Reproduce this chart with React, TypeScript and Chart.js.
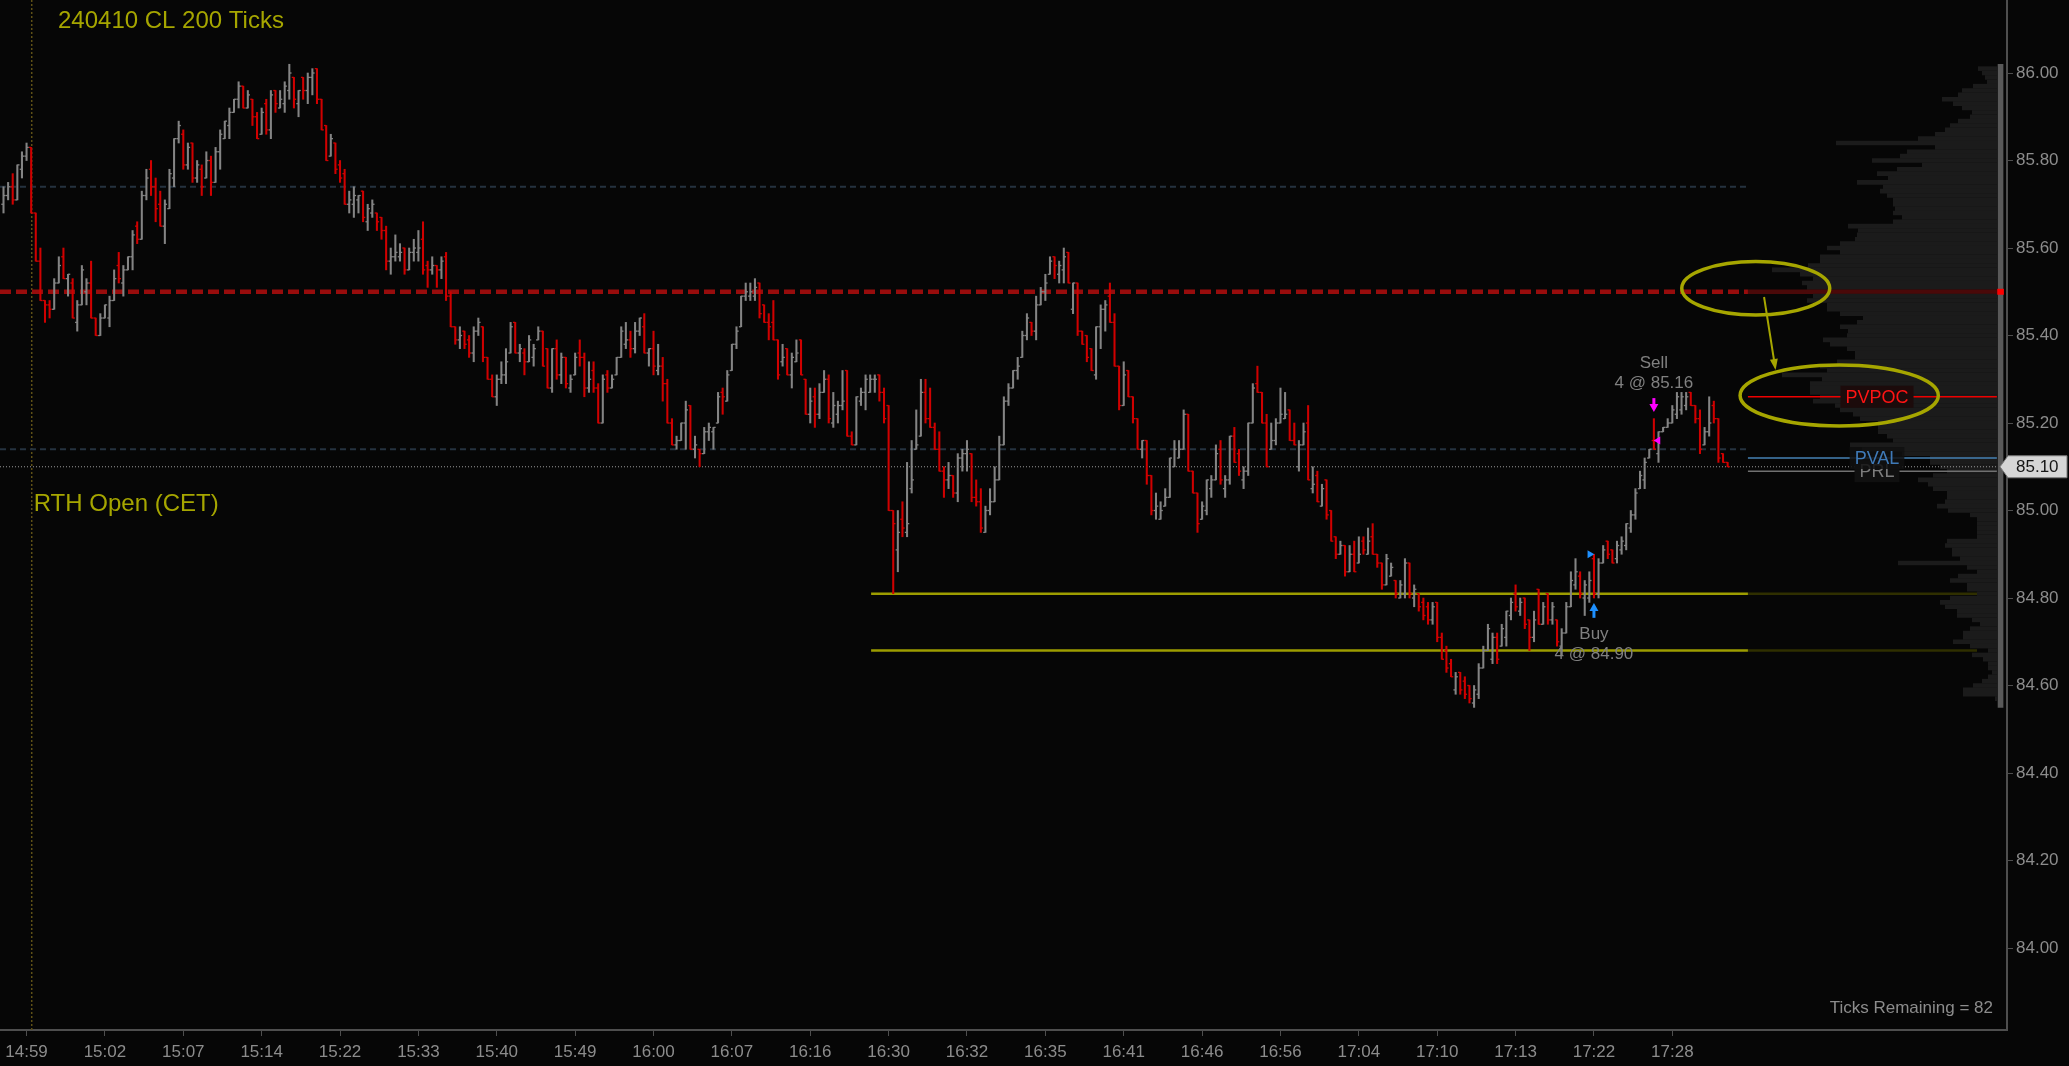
import React, { useEffect, useRef } from "react";
import { Chart, registerables } from "chart.js";

Chart.register(...registerables);

// ---------- DATA (prices in cents) ----------
const OPEN = [
  8570,8572,8574,8571,8578,8581,8583,8568,8557,8548,
  8547,8546,8552,8558,8553,8552,8543,8547,8550,8552,
  8544,8540,8544,8544,8548,8556,8552,8555,8558,8565,
  8562,8572,8578,8574,8570,8565,8569,8576,8585,8586,
  8579,8584,8576,8578,8576,8580,8575,8582,8585,8588,
  8591,8594,8597,8592,8594,8590,8586,8593,8587,8596,
  8592,8593,8596,8599,8593,8599,8596,8599,8601,8594,
  8588,8581,8584,8579,8577,8570,8570,8571,8573,8566,
  8568,8568,8567,8564,8557,8558,8558,8560,8555,8559,
  8559,8562,8556,8555,8556,8555,8558,8549,8542,8539,
  8541,8539,8536,8541,8542,8535,8530,8526,8530,8531,
  8536,8543,8536,8536,8534,8535,8539,8541,8537,8528,
  8537,8531,8535,8528,8531,8536,8535,8528,8532,8528,
  8520,8531,8528,8531,8535,8538,8539,8537,8541,8542,
  8536,8537,8532,8533,8529,8520,8515,8516,8520,8524,
  8514,8514,8513,8518,8518,8520,8527,8525,8532,8538,
  8542,8549,8549,8549,8552,8547,8543,8543,8539,8534,
  8537,8531,8534,8539,8530,8522,8526,8522,8527,8530,
  8520,8522,8524,8532,8517,8515,8525,8527,8527,8530,
  8531,8527,8524,8500,8491,8498,8495,8505,8514,8517,
  8527,8521,8519,8514,8509,8507,8508,8504,8512,8513,
  8513,8503,8502,8495,8500,8502,8507,8515,8525,8528,
  8532,8535,8540,8543,8541,8547,8550,8554,8558,8554,
  8555,8559,8546,8552,8541,8540,8537,8531,8542,8546,
  8549,8543,8533,8524,8532,8526,8521,8514,8516,8508,
  8500,8498,8501,8503,8510,8512,8514,8522,8509,8504,
  8498,8500,8505,8507,8514,8505,8507,8517,8513,8507,
  8509,8520,8529,8527,8520,8514,8516,8520,8521,8523,
  8516,8510,8515,8520,8505,8508,8501,8507,8500,8494,
  8490,8492,8486,8490,8488,8493,8490,8494,8490,8488,
  8483,8485,8484,8480,8481,8488,8480,8481,8479,8478,
  8475,8479,8471,8468,8465,8459,8463,8461,8460,8456,
  8458,8464,8468,8466,8471,8469,8471,8476,8481,8477,
  8480,8475,8471,8482,8474,8481,8475,8475,8469,8472,
  8478,8483,8485,8480,8480,8489,8481,8488,8493,8491,
  8489,8491,8492,8496,8499,8505,8507,8512,8516,8513,
  8518,8519,8520,8522,8523,8524,8527,8524,8521,8515,
  8518,8524,8521,8513,8511,
];
const HIGH = [
  8574,8575,8577,8579,8582,8584,8583,8568,8560,8548,
  8548,8553,8558,8560,8554,8553,8548,8556,8553,8557,
  8544,8545,8547,8549,8555,8559,8556,8558,8564,8566,
  8573,8578,8580,8576,8573,8571,8578,8585,8589,8587,
  8584,8584,8580,8579,8582,8581,8583,8587,8589,8592,
  8594,8598,8597,8596,8594,8591,8592,8594,8596,8596,
  8596,8598,8602,8599,8596,8599,8600,8601,8601,8594,
  8588,8586,8584,8580,8578,8573,8574,8572,8573,8570,
  8571,8568,8567,8565,8560,8563,8561,8560,8560,8562,
  8564,8566,8557,8558,8556,8558,8559,8550,8542,8542,
  8541,8540,8542,8544,8542,8535,8531,8531,8534,8537,
  8543,8543,8538,8537,8540,8538,8542,8541,8537,8537,
  8539,8536,8535,8531,8536,8539,8536,8534,8534,8529,
  8531,8532,8531,8535,8542,8543,8541,8543,8544,8545,
  8537,8541,8538,8535,8530,8521,8517,8520,8525,8524,
  8517,8514,8519,8520,8519,8527,8528,8532,8538,8542,
  8549,8552,8552,8553,8552,8547,8545,8548,8539,8538,
  8537,8536,8539,8539,8530,8528,8528,8529,8532,8531,
  8527,8525,8532,8532,8518,8526,8528,8531,8531,8531,
  8531,8528,8524,8500,8500,8502,8511,8516,8523,8530,
  8530,8528,8520,8518,8510,8511,8508,8513,8514,8516,
  8513,8507,8505,8501,8505,8510,8517,8526,8529,8532,
  8535,8541,8545,8543,8549,8551,8554,8558,8558,8557,
  8560,8559,8552,8552,8541,8540,8537,8542,8547,8548,
  8552,8545,8533,8534,8532,8526,8521,8516,8516,8508,
  8504,8502,8505,8512,8516,8516,8523,8522,8509,8504,
  8502,8507,8508,8515,8516,8508,8517,8519,8514,8510,
  8520,8529,8533,8527,8522,8520,8521,8528,8527,8523,
  8520,8516,8520,8524,8510,8509,8506,8507,8500,8494,
  8493,8492,8492,8493,8494,8494,8496,8497,8490,8488,
  8490,8488,8484,8484,8489,8488,8483,8481,8480,8479,
  8479,8479,8472,8469,8466,8463,8463,8462,8460,8460,
  8465,8469,8474,8472,8472,8474,8477,8480,8483,8480,
  8480,8475,8477,8482,8479,8481,8479,8475,8473,8479,
  8486,8489,8486,8484,8486,8490,8489,8492,8493,8491,
  8493,8494,8497,8500,8505,8509,8512,8514,8521,8518,
  8519,8521,8524,8527,8527,8527,8527,8524,8523,8519,
  8526,8525,8521,8513,8511,
];
const LOW = [
  8568,8571,8570,8571,8576,8580,8568,8557,8548,8543,
  8544,8546,8552,8553,8549,8544,8541,8547,8547,8544,
  8540,8540,8544,8542,8548,8552,8549,8555,8555,8561,
  8562,8571,8572,8566,8565,8561,8569,8574,8584,8578,
  8578,8575,8575,8572,8576,8572,8575,8578,8585,8585,
  8591,8592,8592,8592,8588,8585,8586,8586,8585,8591,
  8592,8591,8594,8592,8590,8594,8593,8595,8593,8587,
  8580,8581,8577,8575,8570,8568,8567,8568,8566,8564,
  8567,8564,8562,8555,8554,8557,8557,8554,8555,8557,
  8557,8554,8551,8554,8551,8553,8548,8542,8538,8537,
  8537,8535,8534,8540,8534,8530,8526,8524,8529,8529,
  8536,8536,8534,8531,8534,8533,8539,8533,8528,8527,
  8530,8529,8528,8527,8531,8533,8526,8527,8527,8520,
  8520,8527,8528,8531,8535,8537,8535,8536,8540,8536,
  8533,8531,8531,8525,8520,8515,8514,8516,8514,8514,
  8512,8510,8513,8516,8514,8520,8522,8525,8532,8537,
  8542,8548,8548,8548,8544,8543,8539,8539,8530,8533,
  8531,8528,8534,8531,8522,8520,8519,8521,8527,8520,
  8519,8520,8523,8517,8515,8515,8524,8523,8527,8527,
  8525,8520,8500,8481,8486,8494,8494,8504,8514,8517,
  8520,8519,8514,8509,8503,8505,8503,8502,8509,8509,
  8502,8501,8495,8495,8499,8502,8507,8515,8524,8528,
  8530,8535,8539,8540,8539,8547,8548,8554,8553,8552,
  8552,8552,8545,8540,8538,8534,8532,8530,8537,8541,
  8543,8533,8523,8524,8526,8520,8514,8512,8506,8499,
  8498,8498,8501,8503,8510,8512,8514,8509,8504,8495,
  8498,8499,8503,8507,8506,8503,8506,8511,8508,8505,
  8508,8520,8527,8520,8510,8514,8515,8520,8521,8516,
  8515,8509,8515,8507,8504,8502,8501,8498,8493,8489,
  8490,8485,8486,8486,8488,8490,8490,8490,8487,8482,
  8483,8485,8480,8480,8480,8480,8478,8477,8475,8474,
  8474,8470,8466,8463,8462,8458,8458,8457,8456,8455,
  8457,8464,8468,8465,8465,8469,8469,8475,8477,8476,
  8473,8468,8470,8474,8474,8474,8474,8469,8467,8472,
  8478,8482,8480,8476,8479,8480,8480,8488,8489,8488,
  8488,8490,8491,8495,8498,8505,8505,8512,8514,8511,
  8518,8519,8520,8521,8522,8523,8524,8520,8513,8515,
  8517,8520,8511,8511,8510,
];
const CLOSE = [
  8572,8574,8571,8579,8581,8583,8568,8557,8548,8547,
  8546,8552,8556,8553,8554,8544,8547,8555,8552,8544,
  8540,8544,8547,8548,8553,8553,8555,8558,8563,8562,
  8572,8576,8574,8569,8565,8570,8577,8585,8588,8579,
  8583,8576,8579,8574,8580,8575,8582,8586,8589,8591,
  8594,8597,8592,8595,8590,8585,8591,8587,8595,8593,
  8594,8597,8600,8594,8596,8596,8599,8600,8594,8587,
  8580,8585,8578,8576,8570,8571,8572,8572,8567,8569,
  8570,8566,8564,8557,8558,8559,8559,8555,8559,8560,
  8560,8555,8555,8556,8555,8557,8549,8542,8539,8540,
  8538,8536,8541,8543,8535,8530,8526,8530,8531,8534,
  8542,8536,8537,8534,8539,8537,8541,8533,8528,8537,
  8531,8535,8529,8530,8535,8535,8528,8530,8528,8520,
  8530,8528,8530,8535,8541,8539,8537,8541,8544,8536,
  8537,8533,8533,8529,8520,8515,8516,8520,8523,8514,
  8515,8513,8518,8519,8519,8526,8526,8531,8538,8541,
  8549,8550,8550,8551,8545,8543,8542,8539,8531,8535,
  8531,8535,8536,8531,8522,8525,8522,8527,8530,8521,
  8524,8524,8525,8517,8515,8526,8527,8530,8530,8530,
  8527,8521,8500,8497,8495,8496,8497,8507,8515,8527,
  8521,8519,8514,8509,8507,8508,8504,8512,8513,8514,
  8503,8502,8496,8500,8502,8507,8515,8525,8528,8532,
  8533,8540,8544,8541,8547,8550,8552,8557,8556,8556,
  8558,8552,8552,8541,8538,8535,8532,8542,8546,8547,
  8543,8533,8524,8531,8526,8521,8514,8516,8508,8500,
  8501,8500,8503,8512,8514,8514,8522,8509,8504,8497,
  8501,8507,8507,8513,8507,8507,8517,8511,8509,8509,
  8520,8528,8527,8520,8510,8516,8520,8522,8522,8516,
  8515,8515,8518,8507,8506,8502,8505,8499,8493,8490,
  8492,8486,8490,8486,8490,8491,8493,8490,8488,8483,
  8489,8487,8481,8483,8488,8481,8482,8478,8476,8475,
  8478,8471,8466,8464,8462,8462,8459,8458,8457,8459,
  8464,8468,8473,8471,8466,8473,8477,8479,8478,8479,
  8474,8471,8475,8474,8478,8475,8478,8470,8472,8478,
  8484,8486,8481,8483,8484,8481,8488,8491,8490,8488,
  8492,8493,8497,8499,8504,8508,8511,8514,8514,8518,
  8519,8520,8523,8526,8526,8526,8524,8521,8514,8518,
  8520,8521,8512,8511,8510,
];

const TICK_INDEX = [5, 22, 39, 56, 73, 90, 107, 124, 141, 158, 175, 192, 209, 226, 243, 260, 277, 294, 311, 328, 345, 362];
const TICK_LABELS = ["14:59", "15:02", "15:07", "15:14", "15:22", "15:33", "15:40", "15:49", "16:00", "16:07", "16:16", "16:30", "16:32", "16:35", "16:41", "16:46", "16:56", "17:04", "17:10", "17:13", "17:22", "17:28"];
const Y_TICKS = [84.0, 84.2, 84.4, 84.6, 84.8, 85.0, 85.2, 85.4, 85.6, 85.8, 86.0];

// volume profile, one row per cent, from the top level downwards
const PROFILE_TOP_CENTS = 8601;
const PROFILE_VOL = [
  19, 15, 12, 10, 24, 35, 39, 55, 44, 35,
  25, 27, 39, 47, 52, 62, 79, 161, 62, 90,
  97, 125, 75, 100, 120, 109, 140, 114, 117, 110,
  104, 104, 102, 104, 95, 104, 149, 139, 140, 142,
  157, 170, 157, 177, 177, 189, 225, 197, 184, 195,
  190, 249, 184, 190, 170, 170, 157, 134, 140, 157,
  149, 150, 174, 167, 150, 142, 142, 160, 177, 170,
  215, 175, 187, 187, 187, 177, 184, 162, 157, 144,
  137, 119, 119, 119, 110, 104, 147, 135, 95, 67,
  67, 57, 50, 64, 79, 69, 64, 50, 50, 52,
  60, 49, 27, 20, 20, 20, 20, 20, 50, 52,
  45, 45, 37, 99, 30, 20, 39, 47, 30, 30,
  20, 47, 57, 52, 40, 40, 25, 17, 27, 34,
  34, 44, 27, 9, 25, 14, 9, 9, 5, 9,
  15, 24, 34, 34, 2,
];
const POC_CENTS = 8550;

// reference levels (prices)
const DEV_POC = 85.5;
const VA_HIGH = 85.74;
const VA_LOW = 85.14;
const PVAL = 85.12;
const LAST_PRICE = 85.1;
const PRL = 85.09;
const PVPOC = 85.26;
const ZONE_HIGH = 84.81;
const ZONE_LOW = 84.68;
const PROFILE_RANGE = [84.55, 86.02];

// trade markers
const SELL = { bar: 358, price: 85.16, qty: 4 };
const BUY = { bar: 345, price: 84.9, qty: 4 };

// ---------- LAYOUT / STYLE ----------
const W = 2069;
const H = 1066;
const X_MIN = -0.76;
const X_MAX = 434.6;
const Y_MIN = 83.8126;
const Y_MAX = 86.1669;
const XP_MIN = -10;
const XP_MAX = 1997;
const PROFILE_START_X = 378.4;
const PROFILE_END_X = 432.4;
const PROFILE_COLUMN_X = 433.2;
const ZONE_START_X = 188.2;
const ZONE_DIM_END_X = 428.1;
const RTH_OPEN_X = 6.12;
const LABEL_X = 406.4;

const BG = "#060606";
const UP = "#848484";
const DOWN = "#d00000";
const AXIS = "#4e4e4e";
const TEXT = "#8c8c8c";
const OLIVE = "#a6a600";
const FONT = '"Liberation Sans", Arial, sans-serif';

const c = (v: number) => v / 100;

function hline(label: string, y: number, x0: number, x1: number, color: string, width: number, dash: number[] = [], order = 5) {
  return {
    type: "line" as const,
    label,
    data: [{ x: x0, y }, { x: x1, y }],
    borderColor: color,
    borderWidth: width,
    borderDash: dash,
    pointRadius: 0,
    fill: false,
    tension: 0,
    xAxisID: "x",
    yAxisID: "y",
    order,
  };
}

const annotationPlugin = {
  id: "annotations",
  beforeDraw(chart: any) {
    const ctx = chart.ctx;
    ctx.save();
    ctx.fillStyle = BG;
    ctx.fillRect(0, 0, chart.width, chart.height);
    ctx.restore();
  },
  afterDatasetsDraw(chart: any) {
    const { ctx, chartArea } = chart;
    const xs = chart.scales.x;
    const ys = chart.scales.y;
    const px = (v: number) => xs.getPixelForValue(v);
    const py = (v: number) => ys.getPixelForValue(v);
    ctx.save();

    // titles
    ctx.textBaseline = "middle";
    ctx.textAlign = "left";
    ctx.fillStyle = OLIVE;
    ctx.font = `24px ${FONT}`;
    ctx.fillText("240410 CL 200 Ticks", chartArea.left + 58, chartArea.top + 21);
    ctx.fillText("RTH Open (CET)", px(RTH_OPEN_X) + 2, 504);

    // level labels on the profile side
    const label = (text: string, y: number, color: string, box: string, size: number) => {
      ctx.font = `${size}px ${FONT}`;
      const w = ctx.measureText(text).width;
      const cx = px(LABEL_X);
      ctx.fillStyle = box;
      ctx.fillRect(cx - w / 2 - 5, py(y) - 11, w + 10, 22);
      ctx.fillStyle = color;
      ctx.textAlign = "center";
      ctx.fillText(text, cx, py(y) + 1);
    };
    label("PVPOC", PVPOC, "#ff1414", "#1c0b0b", 18);
    label("PRL", PRL, "#7c7c7c", "#101010", 18);
    label("PVAL", PVAL, "#3f7ab8", "rgba(16,16,16,0.85)", 18);

    // ellipses
    ctx.strokeStyle = OLIVE;
    ctx.lineWidth = 3.5;
    const ellipse = (cxv: number, cyv: number, rxv: number, ryv: number) => {
      const cx = px(cxv);
      const cy = py(cyv);
      const rx = px(cxv + rxv) - cx;
      const ry = cy - py(cyv + ryv);
      ctx.beginPath();
      ctx.ellipse(cx, cy, rx, ry, 0, 0, Math.PI * 2);
      ctx.stroke();
    };
    ellipse(380.1, 85.508, 16.05, 0.061);
    ellipse(398.2, 85.263, 21.5, 0.0697);

    // arrow between ellipses
    const ax0 = px(381.9), ay0 = py(85.488), ax1 = px(384.4), ay1 = py(85.321);
    const ang = Math.atan2(ay1 - ay0, ax1 - ax0);
    ctx.lineWidth = 2;
    ctx.beginPath();
    ctx.moveTo(ax0, ay0);
    ctx.lineTo(ax1 - Math.cos(ang) * 8, ay1 - Math.sin(ang) * 8);
    ctx.stroke();
    ctx.fillStyle = OLIVE;
    ctx.beginPath();
    ctx.moveTo(ax1, ay1);
    ctx.lineTo(ax1 - Math.cos(ang) * 11 + Math.sin(ang) * 4, ay1 - Math.sin(ang) * 11 - Math.cos(ang) * 4);
    ctx.lineTo(ax1 - Math.cos(ang) * 11 - Math.sin(ang) * 4, ay1 - Math.sin(ang) * 11 + Math.cos(ang) * 4);
    ctx.closePath();
    ctx.fill();

    // trade texts
    ctx.font = `17px ${FONT}`;
    ctx.fillStyle = "#808080";
    ctx.textAlign = "center";
    const sx = px(SELL.bar);
    const sTop = py(HIGH[SELL.bar] / 100) - 25;
    ctx.fillText("Sell", sx, sTop - 30);
    ctx.fillText(`${SELL.qty} @ ${SELL.price.toFixed(2)}`, sx, sTop - 10);
    const bx = px(BUY.bar);
    const bBot = py(LOW[BUY.bar] / 100) + 29;
    ctx.fillText("Buy", bx, bBot + 7);
    ctx.fillText(`${BUY.qty} @ ${BUY.price.toFixed(2)}`, bx, bBot + 27);

    // ticks remaining
    ctx.textAlign = "right";
    ctx.fillStyle = TEXT;
    ctx.fillText("Ticks Remaining = 82", chartArea.right - 14, chartArea.bottom - 22);
    ctx.restore();
  },
  afterDraw(chart: any) {
    const { ctx, chartArea } = chart;
    const y = chart.scales.y.getPixelForValue(LAST_PRICE);
    const r = chartArea.right;
    ctx.save();
    ctx.beginPath();
    ctx.moveTo(r - 7, y);
    ctx.lineTo(r + 1, y - 11);
    ctx.lineTo(r + 60, y - 11);
    ctx.lineTo(r + 60, y + 11);
    ctx.lineTo(r + 1, y + 11);
    ctx.closePath();
    ctx.fillStyle = "#d6d6d6";
    ctx.fill();
    ctx.strokeStyle = "#7a7a7a";
    ctx.lineWidth = 1;
    ctx.stroke();
    ctx.fillStyle = "#151515";
    ctx.font = `17px ${FONT}`;
    ctx.textAlign = "left";
    ctx.textBaseline = "middle";
    ctx.fillText(LAST_PRICE.toFixed(2), r + 9, y + 1);
    ctx.restore();
  },
};

export default function App() {
  const ref = useRef<HTMLCanvasElement>(null);

  useEffect(() => {
    const canvas = ref.current;
    if (!canvas) return;
    Chart.defaults.font.family = FONT;

    const idx = OPEN.map((_, i) => i);
    const colors = OPEN.map((o, i) => (CLOSE[i] >= o ? UP : DOWN));
    const profileData = PROFILE_VOL.map((v, k) => ({ x: v, y: c(PROFILE_TOP_CENTS - k) }));
    const profileColors = PROFILE_VOL.map((_, k) => (PROFILE_TOP_CENTS - k === POC_CENTS ? "#4a0909" : "#1b1b1b"));

    const datasets: any[] = [
      {
        type: "bar",
        label: "profile",
        data: profileData,
        indexAxis: "y",
        xAxisID: "xp",
        yAxisID: "yp",
        backgroundColor: profileColors,
        borderWidth: 0,
        barPercentage: 1.04,
        categoryPercentage: 1,
        grouped: false,
        order: 10,
      },
      {
        type: "bar",
        label: "profile column",
        data: [{ x: PROFILE_COLUMN_X, y: PROFILE_RANGE }],
        xAxisID: "x",
        yAxisID: "y",
        backgroundColor: "#595959",
        barThickness: 5,
        grouped: false,
        order: 9,
      },
      {
        type: "bar",
        label: "poc mark",
        data: [{ x: PROFILE_COLUMN_X, y: [DEV_POC - 0.006, DEV_POC + 0.006] }],
        xAxisID: "x",
        yAxisID: "y",
        backgroundColor: "#ff0000",
        barThickness: 6,
        grouped: false,
        order: 8,
      },
      hline("va high", VA_HIGH, X_MIN, PROFILE_START_X, "#25323f", 2, [6, 4]),
      hline("va low", VA_LOW, X_MIN, PROFILE_START_X, "#25323f", 2, [6, 4]),
      hline("dev poc", DEV_POC, X_MIN, PROFILE_START_X, "#980c0c", 4.3, [11, 5]),
      hline("zone high", ZONE_HIGH, ZONE_START_X, PROFILE_START_X, "#9c9c00", 2.5),
      hline("zone low", ZONE_LOW, ZONE_START_X, PROFILE_START_X, "#9c9c00", 2.5),
      hline("zone high dim", ZONE_HIGH, PROFILE_START_X, ZONE_DIM_END_X, "#2f2f00", 2.5),
      hline("zone low dim", ZONE_LOW, PROFILE_START_X, ZONE_DIM_END_X, "#2f2f00", 2.5),
      hline("last", LAST_PRICE, X_MIN, PROFILE_END_X, "#9a9a9a", 1, [1, 2]),
      hline("pval", PVAL, PROFILE_START_X, PROFILE_END_X, "#4682b4", 1.5),
      hline("prl", PRL, PROFILE_START_X, PROFILE_END_X, "#707070", 1.5),
      hline("pvpoc", PVPOC, PROFILE_START_X, PROFILE_END_X, "#ee0000", 1.5),
      {
        type: "line",
        label: "rth open",
        data: [{ x: RTH_OPEN_X, y: Y_MIN }, { x: RTH_OPEN_X, y: Y_MAX }],
        borderColor: "#5e5016",
        borderWidth: 1.5,
        borderDash: [2, 2],
        pointRadius: 0,
        xAxisID: "x",
        yAxisID: "y",
        order: 6,
      },
      {
        type: "bar",
        label: "high-low",
        data: idx.map((i) => ({ x: i, y: [c(LOW[i]), c(HIGH[i])] })),
        xAxisID: "x",
        yAxisID: "y",
        backgroundColor: colors,
        barThickness: 1.4,
        minBarLength: 1,
        grouped: false,
        order: 3,
      },
      {
        type: "scatter",
        label: "open",
        data: idx.map((i) => ({ x: i - 0.24, y: c(OPEN[i]) })),
        xAxisID: "x",
        yAxisID: "y",
        pointStyle: "line",
        pointRadius: 1.1,
        pointBorderWidth: 1.3,
        pointBorderColor: colors,
        pointBackgroundColor: colors,
        order: 2,
      },
      {
        type: "scatter",
        label: "close",
        data: idx.map((i) => ({ x: i + 0.24, y: c(CLOSE[i]) })),
        xAxisID: "x",
        yAxisID: "y",
        pointStyle: "line",
        pointRadius: 1.1,
        pointBorderWidth: 1.3,
        pointBorderColor: colors,
        pointBackgroundColor: colors,
        order: 2,
      },
      // sell marker: shaft + head above bar, fill triangle at price
      {
        type: "scatter",
        label: "sell shaft",
        data: [{ x: SELL.bar, y: 85.2487 }],
        xAxisID: "x",
        yAxisID: "y",
        pointStyle: "line",
        pointRadius: 3.6,
        pointRotation: 90,
        pointBorderWidth: 3,
        pointBorderColor: "#ff00ff",
        order: 0,
      },
      {
        type: "scatter",
        label: "sell head",
        data: [{ x: SELL.bar, y: 85.2373 }],
        xAxisID: "x",
        yAxisID: "y",
        pointStyle: "triangle",
        pointRadius: 5.2,
        pointRotation: 180,
        pointBorderWidth: 0,
        pointBackgroundColor: "#ff00ff",
        order: 0,
      },
      {
        type: "scatter",
        label: "sell fill",
        data: [{ x: SELL.bar + 0.9, y: SELL.price }],
        xAxisID: "x",
        yAxisID: "y",
        pointStyle: "triangle",
        pointRadius: 4.5,
        pointRotation: -90,
        pointBorderWidth: 0,
        pointBackgroundColor: "#ff00ff",
        order: 0,
      },
      {
        type: "scatter",
        label: "buy shaft",
        data: [{ x: BUY.bar, y: 84.7634 }],
        xAxisID: "x",
        yAxisID: "y",
        pointStyle: "line",
        pointRadius: 3.8,
        pointRotation: 90,
        pointBorderWidth: 3,
        pointBorderColor: "#1e90ff",
        order: 0,
      },
      {
        type: "scatter",
        label: "buy head",
        data: [{ x: BUY.bar, y: 84.7765 }],
        xAxisID: "x",
        yAxisID: "y",
        pointStyle: "triangle",
        pointRadius: 5.2,
        pointRotation: 0,
        pointBorderWidth: 0,
        pointBackgroundColor: "#1e90ff",
        order: 0,
      },
      {
        type: "scatter",
        label: "buy fill",
        data: [{ x: BUY.bar - 0.9, y: BUY.price }],
        xAxisID: "x",
        yAxisID: "y",
        pointStyle: "triangle",
        pointRadius: 4.5,
        pointRotation: 90,
        pointBorderWidth: 0,
        pointBackgroundColor: "#1e90ff",
        order: 0,
      },
    ];

    const chart = new Chart(canvas, {
      type: "bar",
      data: { datasets },
      options: {
        responsive: false,
        animation: false,
        events: [],
        layout: { padding: 0, autoPadding: false },
        plugins: { legend: { display: false }, tooltip: { enabled: false }, title: { display: false } },
        scales: {
          x: {
            type: "linear",
            position: "bottom",
            min: X_MIN,
            max: X_MAX,
            offset: false,
            afterFit: (s: any) => {
              s.height = 36;
              s.paddingLeft = 0;
              s.paddingRight = 0;
            },
            afterBuildTicks: (s: any) => {
              s.ticks = TICK_INDEX.map((v) => ({ value: v }));
            },
            ticks: {
              autoSkip: false,
              maxRotation: 0,
              minRotation: 0,
              padding: 6,
              color: TEXT,
              font: { size: 17, family: FONT },
              callback: (v: any) => {
                const k = TICK_INDEX.indexOf(Number(v));
                return k >= 0 ? TICK_LABELS[k] : "";
              },
            },
            grid: { display: true, drawOnChartArea: false, drawTicks: true, tickLength: 6, color: AXIS, offset: false },
            border: { display: true, color: AXIS, width: 2 },
          },
          y: {
            type: "linear",
            position: "right",
            min: Y_MIN,
            max: Y_MAX,
            beginAtZero: false,
            afterFit: (s: any) => {
              s.width = 62;
              s.paddingTop = 0;
              s.paddingBottom = 0;
            },
            afterBuildTicks: (s: any) => {
              s.ticks = Y_TICKS.map((v) => ({ value: v }));
            },
            ticks: {
              padding: 3,
              color: TEXT,
              font: { size: 17, family: FONT },
              callback: (v: any) => Number(v).toFixed(2),
            },
            grid: { display: true, drawOnChartArea: false, drawTicks: true, tickLength: 6, color: AXIS },
            border: { display: true, color: AXIS, width: 2 },
          },
          xp: {
            type: "linear",
            axis: "x",
            display: false,
            min: XP_MIN,
            max: XP_MAX,
            reverse: true,
            offset: false,
          },
          yp: {
            type: "linear",
            axis: "y",
            display: false,
            min: Y_MIN,
            max: Y_MAX,
            offset: false,
            beginAtZero: false,
          },
        },
      } as any,
      plugins: [annotationPlugin],
    } as any);

    return () => chart.destroy();
  }, []);

  return (
    <div style={{ position: "fixed", left: 0, top: 0, width: W, height: H, background: BG }}>
      <canvas ref={ref} width={W} height={H} style={{ display: "block", width: W, height: H }} />
    </div>
  );
}
